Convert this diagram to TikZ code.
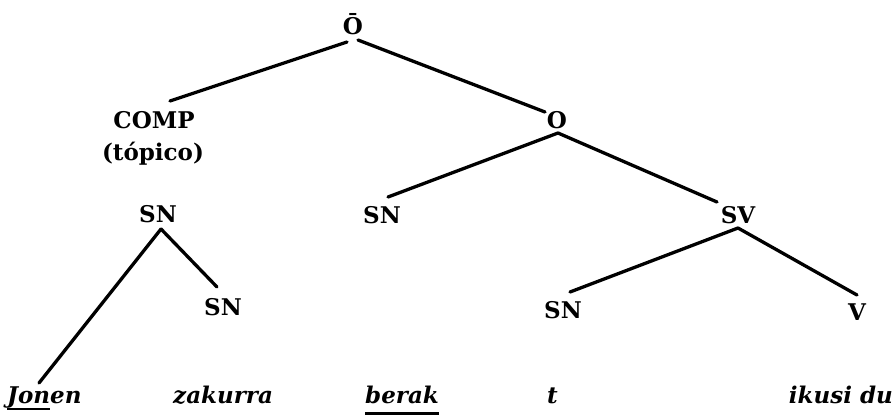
\documentclass[tikz,border=0pt]{standalone}
\usepackage{fontspec}
\setmainfont{DejaVu Serif}
\usetikzlibrary{calc}
\begin{document}
\begin{tikzpicture}[x=1pt,y=-1pt,
  cat/.style={font=\bfseries\fontsize{23}{25}\selectfont, inner sep=0pt, anchor=base},
  word/.style={font=\bfseries\itshape\fontsize{23}{25}\selectfont, inner sep=0pt, anchor=base west},
  branch/.style={line width=3.3pt, line cap=round},
  uline/.style={line width=2.4pt}]
\useasboundingbox (0,0) rectangle (893,416);

% category labels
\node[cat] (top)   at (353,34)  {Ō};
\node[cat] (comp)  at (154,128) {COMP};
\node[cat] (topic) at (153,160) {(tópico)};
\node[cat] (o)     at (557,128) {O};
\node[cat] (snA)   at (158,222) {SN};
\node[cat] (snB)   at (382,223) {SN};
\node[cat] (sv)    at (738,223) {SV};
\node[cat] (snC)   at (223,315) {SN};
\node[cat] (snD)   at (563,318) {SN};
\node[cat] (v)     at (857,320) {V};

% terminal words
\node[word] (jonen)   at (7,403)   {Jonen};
\node[word] (zakurra) at (173,403) {zakurra};
\node[word] (berak)   at (365,403) {berak};
\node[word] (t)       at (547,403) {t};
\node[word,anchor=base east] (ikusi) at (893,403) {ikusi du};

% branches
\draw[branch] ($(top.base)+(-6,8)$)  -- ($(comp.base)+(16,-27)$);
\draw[branch] ($(top.base)+(5,6)$)   -- ($(o.base)+(-12,-16)$);
\draw[branch] ($(o.base)+(1,5)$)     -- ($(snB.base)+(6,-26)$);
\draw[branch] ($(o.base)+(1,5)$)     -- ($(sv.base)+(-21,-21)$);
\draw[branch] ($(snA.base)+(3,7)$)   -- ($(jonen.base west)+(32,-20)$);
\draw[branch] ($(snA.base)+(3,7)$)   -- ($(snC.base)+(-6,-28)$);
\draw[branch] ($(sv.base)+(0,5)$)    -- ($(snD.base)+(7,-26)$);
\draw[branch] ($(sv.base)+(0,5)$)    -- ($(v.base)+(0,-25)$);

% underlines
\draw[uline] ($(jonen.base west)+(0,6)$) -- ($(jonen.base west)+(43,6)$);
\draw[uline,line width=3pt] ($(berak.base west)+(0,10)$) -- ($(berak.base east)+(0,10)$);
\end{tikzpicture}
\end{document}
